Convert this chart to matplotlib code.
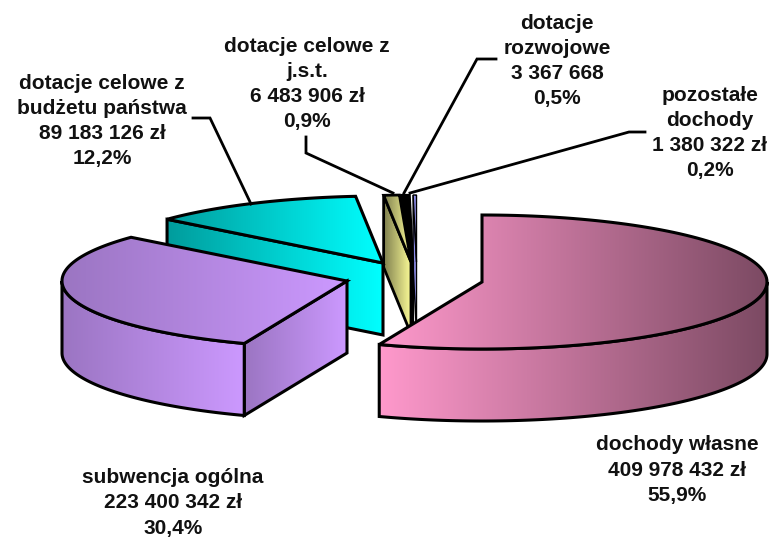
import numpy as np
import matplotlib
matplotlib.use("Agg")
import matplotlib.pyplot as plt
from matplotlib.colors import LinearSegmentedColormap
from matplotlib.patches import Polygon

# the values, clockwise from 12 o'clock
names = ["dochody własne", "subwencja ogólna", "dotacje celowe z\nbudżetu państwa",
         "dotacje celowe z\nj.s.t.", "dotacje\nrozwojowe", "pozostałe\ndochody"]
amounts = [409978432, 223400342, 89183126, 6483906, 3367668, 1380322]
amount_labels = ["409 978 432 zł", "223 400 342 zł", "89 183 126 zł",
                 "6 483 906 zł", "3 367 668", "1 380 322 zł"]
percent_labels = ["55,9%", "30,4%", "12,2%", "0,9%", "0,5%", "0,2%"]

# layout
dark_colors = ["#FF99CC", "#9B75C2", "#009C9C", "#80804F", "#000000", "#8080E0"]
light_colors = ["#7C4A63", "#CC99FF", "#00FFFF", "#FFFF99", "#000000", "#A0A0FF"]
centers = [(482, 282), (347, 281), (383, 263), (411, 262), (413, 262), (416.5, 262)]
line_widths = [2.2, 2.2, 2.2, 2.0, 1.6, 1.0]
label_pos = [(677, 470), (173, 503), (102, 121), (307, 84), (557, 61), (710, 133)]
RX = 285
RY = 67
DEPTH = 72

leaders = [
    ([193, 210, 251], [118, 118, 204]),
    ([306, 306, 393], [137, 153, 193]),
    ([496, 477, 404], [59, 59, 193]),
    ([645, 629, 410], [132, 132, 193]),
]

fig = plt.figure(figsize=(7.75, 5.38), dpi=100)
ax = fig.add_axes([0, 0, 1, 1])
ax.set_axis_off()

z = 1


def rim(center, a, b):
    t = np.radians(np.linspace(a, b, 120))
    return np.column_stack([center[0] + RX * np.sin(t), center[1] - RY * np.cos(t)])


# one polygon with a left to right gradient and a black outline
def face(pts, c1, c2, lw):
    global z
    cmap = LinearSegmentedColormap.from_list("g", [c1, c2])
    x0, x1 = pts[:, 0].min(), pts[:, 0].max()
    y0, y1 = pts[:, 1].min(), pts[:, 1].max()
    im = ax.imshow(np.linspace(0, 1, 256).reshape(1, -1), cmap=cmap, aspect="auto",
                   extent=[x0, x1, y1, y0], zorder=z, interpolation="bilinear")
    outline = Polygon(pts, closed=True, facecolor="none", edgecolor="black",
                      linewidth=lw, joinstyle="miter", zorder=z + 1)
    ax.add_patch(outline)
    im.set_clip_path(outline)
    z += 2


shares = np.array(amounts) / sum(amounts) * 360
ends = np.cumsum(shares)
starts = ends - shares

# back slices first, the big pink one goes on top
for i in [5, 4, 3, 2, 1, 0]:
    a, b = starts[i], ends[i]
    c = np.array(centers[i], dtype=float)
    down = np.array([0, DEPTH])
    edge = rim(c, a, b)
    colors = (dark_colors[i], light_colors[i], line_widths[i])

    # cut faces that look towards the viewer
    if np.sin(np.radians(a)) < -1e-6:
        p = edge[0]
        face(np.array([c, p, p + down, c + down]), *colors)
    if np.sin(np.radians(b)) > 1e-6:
        p = edge[-1]
        face(np.array([c, p, p + down, c + down]), *colors)

    # outer wall, only the front half of the ellipse shows
    lo, hi = max(a, 90), min(b, 270)
    if lo < hi:
        wall = rim(c, lo, hi)
        face(np.vstack([wall, wall[::-1] + down]), *colors)

    face(np.vstack([c, edge]), *colors)

for xs, ys in leaders:
    ax.plot(xs, ys, color="black", lw=2.0, solid_joinstyle="miter", zorder=z)

for i in range(len(names)):
    label = names[i] + "\n" + amount_labels[i] + "\n" + percent_labels[i]
    ax.text(label_pos[i][0], label_pos[i][1], label, ha="center", va="center",
            family="Liberation Sans", weight="bold", fontsize=15, color="#111111",
            linespacing=1.42, zorder=z)

ax.set_xlim(0, 775)
ax.set_ylim(538, 0)
fig.savefig("out.png", dpi=100, facecolor="white")
